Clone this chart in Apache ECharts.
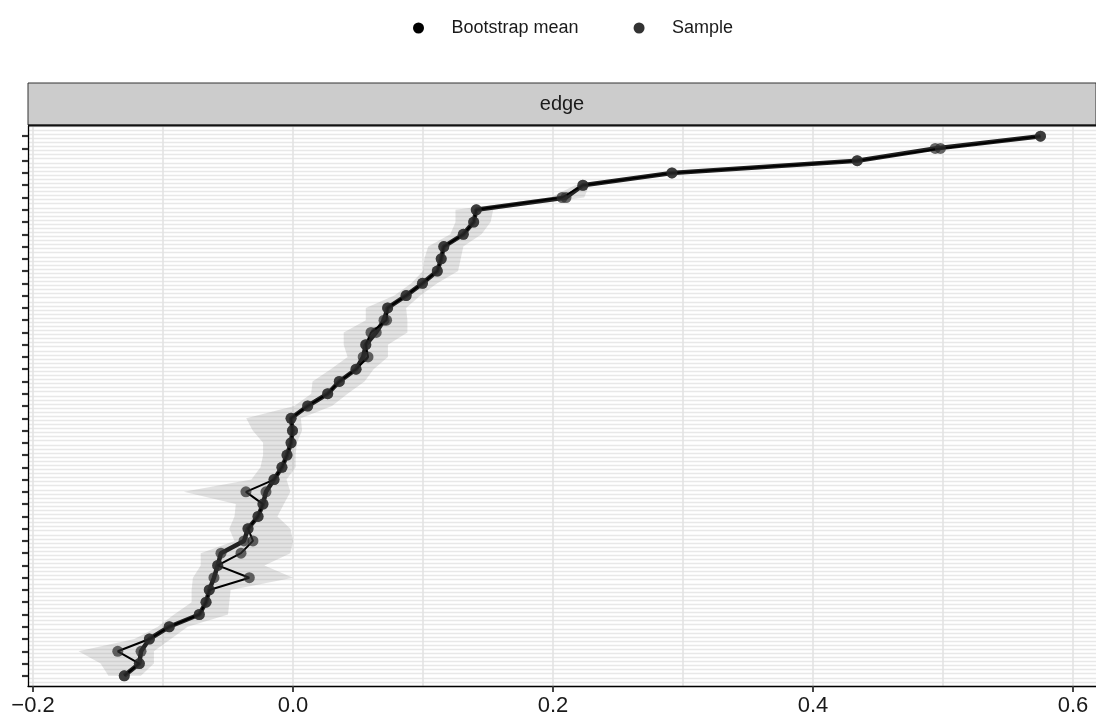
<!DOCTYPE html>
<html><head><meta charset="utf-8">
<script src="https://cdn.jsdelivr.net/npm/echarts@6/dist/echarts.min.js"></script>
<style>html,body{margin:0;padding:0;background:#fff}#c{width:1096px;height:718px}</style>
</head><body><div id="c"></div><script>
// ---- data ----
const rowIdx = Array.from({length: 45}, (_, i) => i); // 45 edge categories, top to bottom
const bootMean = [0.575, 0.494, 0.434, 0.2915, 0.223, 0.210, 0.141, 0.139, 0.131, 0.116,
  0.114, 0.111, 0.0996, 0.087, 0.0728, 0.070, 0.064, 0.056, 0.054, 0.0485,
  0.0356, 0.0267, 0.0113, -0.0015, -0.0004, -0.0015, -0.0046, -0.0085, -0.0146, -0.0208,
  -0.0231, -0.0269, -0.0346, -0.0377, -0.0554, -0.0579, -0.0608, -0.0644, -0.0669, -0.0721,
  -0.0952, -0.1105, -0.1169, -0.1182, -0.1298];
const sampleVals = [0.575, 0.498, 0.434, 0.2915, 0.223, 0.207, 0.141, 0.139, 0.131, 0.116,
  0.114, 0.111, 0.0996, 0.087, 0.0728, 0.072, 0.060, 0.056, 0.0577, 0.0485,
  0.0356, 0.0267, 0.0113, -0.0015, -0.0004, -0.0015, -0.0046, -0.0085, -0.0146, -0.0362,
  -0.0231, -0.0269, -0.0346, -0.0308, -0.040, -0.0579, -0.0336, -0.0644, -0.0669, -0.0721,
  -0.0952, -0.1105, -0.1348, -0.1182, -0.1298];
const ciLower = [0.572, 0.489, 0.430, 0.288, 0.217, 0.198, 0.125, 0.125, 0.121, 0.104,
  0.101, 0.100, 0.091, 0.078, 0.056, 0.056, 0.039, 0.039, 0.042, 0.029,
  0.015, 0.014, 0.001, -0.036, -0.031, -0.023, -0.023, -0.025, -0.032, -0.084,
  -0.044, -0.045, -0.049, -0.045, -0.071, -0.071, -0.077, -0.078, -0.078, -0.0915,
  -0.104, -0.122, -0.165, -0.148, -0.142];
const ciUpper = [0.578, 0.502, 0.438, 0.295, 0.228, 0.224, 0.154, 0.152, 0.145, 0.131,
  0.129, 0.127, 0.111, 0.098, 0.087, 0.088, 0.088, 0.073, 0.073, 0.062,
  0.055, 0.042, 0.030, 0.006, 0.007, 0.003, 0.002, 0.002, -0.005, -0.002,
  -0.007, -0.012, -0.002, 0.000, -0.002, -0.022, 0.000, -0.048, -0.049, -0.050,
  -0.081, -0.094, -0.107, -0.107, -0.117];
const xTicks = [-0.2, 0.0, 0.2, 0.4, 0.6];
const xGridVals = [-0.2, -0.1, 0.0, 0.1, 0.2, 0.3, 0.4, 0.5, 0.6];
const legendNames = ['Bootstrap mean', 'Sample'];
const stripLabel = 'edge';

// ---- chart ----
const X_MIN = -0.20385, X_MAX = 0.6177;
const Y_MIN = -0.83, Y_MAX = 44.83;
const chart = echarts.init(document.getElementById('c'), null, {renderer: 'canvas'});
const FONT = 'Liberation Sans, Arial, Helvetica, sans-serif';
const ribbonData = rowIdx.map(i => [i, ciLower[i], ciUpper[i]]);

const option = {
  animation: false,
  backgroundColor: '#fff',
  textStyle: {fontFamily: FONT},
  legend: {
    left: 408, top: 14,
    itemWidth: 56, itemHeight: 11, itemGap: 55,
    textStyle: {fontSize: 18, color: '#1a1a1a', fontFamily: FONT},
    data: [
      {name: legendNames[0], icon: 'circle', itemStyle: {color: '#000'}},
      {name: legendNames[1], icon: 'circle', itemStyle: {color: '#333'}}
    ]
  },
  grid: {left: 28, right: 0, top: 126, bottom: 32, containLabel: false},
  xAxis: [{
    type: 'value', min: X_MIN, max: X_MAX,
    axisLine: {show: true, onZero: false, lineStyle: {color: '#000', width: 1.3}},
    axisTick: {show: true, customValues: xTicks, length: 6, lineStyle: {color: '#333', width: 1.8}},
    axisLabel: {show: true, customValues: xTicks, fontSize: 22, color: '#1a1a1a', margin: 9,
      formatter: v => (v < 0 ? '\u2212' : '') + Math.abs(v).toFixed(1)},
    splitLine: {show: false}
  }, {
    type: 'value', min: X_MIN, max: X_MAX, position: 'top',
    axisLine: {show: false}, axisLabel: {show: false},
    axisTick: {show: false, customValues: xGridVals},
    splitLine: {show: true, lineStyle: {color: '#e3e3e3', width: 1.6}}
  }],
  yAxis: [{
    type: 'value', inverse: true, min: Y_MIN, max: Y_MAX,
    axisLine: {show: true, onZero: false, lineStyle: {color: '#000', width: 1.3}},
    axisTick: {show: true, customValues: rowIdx, length: 6, lineStyle: {color: '#333', width: 2.2}},
    axisLabel: {show: false},
    splitLine: {show: false}
  }, {
    type: 'value', min: 0, max: 137, interval: 1, position: 'left',
    axisLine: {show: false}, axisTick: {show: false}, axisLabel: {show: false},
    splitLine: {show: true, lineStyle: {color: '#e8e8e8', width: 1.3}}
  }],
  series: [{
    type: 'custom', name: 'ci', xAxisIndex: 0, yAxisIndex: 0, z: 1, silent: true,
    data: ribbonData,
    encode: {x: [1, 2], y: 0},
    renderItem: function (params, api) {
      if (params.dataIndex !== 0) return null;
      const pts = [];
      for (let i = 0; i < ribbonData.length; i++) pts.push(api.coord([ribbonData[i][1], ribbonData[i][0]]));
      for (let i = ribbonData.length - 1; i >= 0; i--) pts.push(api.coord([ribbonData[i][2], ribbonData[i][0]]));
      return {type: 'polygon', shape: {points: pts}, style: {fill: 'rgba(140,140,140,0.24)'}};
    }
  }, {
    type: 'line', name: legendNames[0], xAxisIndex: 0, yAxisIndex: 0, z: 3,
    data: rowIdx.map(i => [bootMean[i], i]),
    symbol: 'circle', symbolSize: 11,
    lineStyle: {color: '#222', width: 4.5},
    itemStyle: {color: 'rgba(45,45,45,0.72)'}
  }, {
    type: 'line', name: legendNames[1], xAxisIndex: 0, yAxisIndex: 0, z: 4,
    data: rowIdx.map(i => [sampleVals[i], i]),
    symbol: 'circle', symbolSize: 11,
    lineStyle: {color: '#000', width: 2},
    itemStyle: {color: 'rgba(45,45,45,0.72)'}
  }],
  graphic: [{
    type: 'rect', z: 10,
    shape: {x: 28, y: 83, width: 1068, height: 42},
    style: {fill: '#cccccc', stroke: '#333', lineWidth: 1}
  }, {
    type: 'line', z: 11,
    shape: {x1: 28, y1: 125.5, x2: 1096, y2: 125.5},
    style: {stroke: '#111', lineWidth: 2}
  }, {
    type: 'text', z: 12, x: 562, y: 104,
    style: {text: stripLabel, font: '20px ' + FONT, fill: '#1a1a1a', align: 'center', verticalAlign: 'middle'}
  }]
};
chart.setOption(option);
</script></body></html>
